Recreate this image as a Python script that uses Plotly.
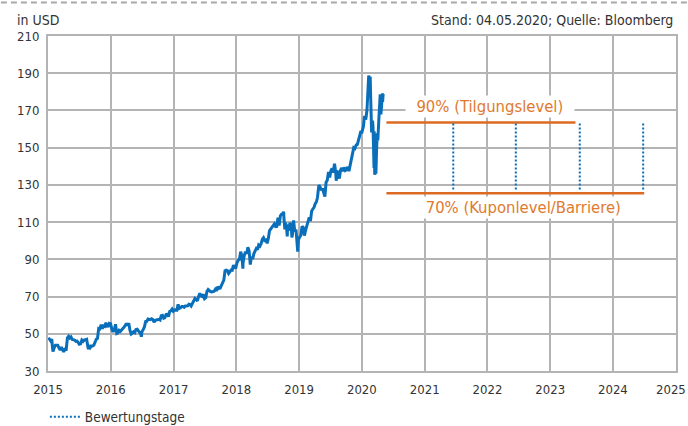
import plotly.graph_objects as go

# ---------------- data ----------------
dates_2015 = ["2015-01-02","2015-01-09","2015-01-16","2015-01-23","2015-01-27","2015-01-30","2015-02-06","2015-02-13",
              "2015-02-20","2015-02-27","2015-03-06","2015-03-13","2015-03-20","2015-03-27","2015-04-02","2015-04-10",
              "2015-04-17","2015-04-24","2015-05-01","2015-05-08","2015-05-15","2015-05-22","2015-05-29","2015-06-05",
              "2015-06-12","2015-06-19","2015-06-26","2015-07-02","2015-07-10","2015-07-17","2015-07-24","2015-07-31",
              "2015-08-07","2015-08-14","2015-08-21","2015-08-24","2015-08-28","2015-09-04","2015-09-11","2015-09-18",
              "2015-09-25","2015-10-02","2015-10-09","2015-10-16","2015-10-23","2015-10-30","2015-11-06","2015-11-13",
              "2015-11-20","2015-11-27","2015-12-04","2015-12-11","2015-12-18","2015-12-24","2015-12-31"]
close_2015 = [46.76,47.19,46.24,47.18,42.66,40.40,42.41,43.87,
              43.86,43.85,42.36,41.38,42.88,40.97,40.29,41.72,
              41.62,47.87,48.66,47.75,48.30,46.90,46.86,46.63,
              45.97,46.10,45.26,44.40,44.61,46.62,45.94,46.70,
              46.74,47.00,43.07,41.68,43.93,42.61,43.48,43.48,
              43.94,46.23,47.11,47.51,52.87,52.64,54.92,52.84,
              54.19,53.93,55.91,54.06,54.13,55.67,55.48]

dates_2016 = ["2016-01-08","2016-01-15","2016-01-22","2016-01-29","2016-02-05","2016-02-12","2016-02-19","2016-02-26",
              "2016-03-04","2016-03-11","2016-03-18","2016-03-24","2016-04-01","2016-04-08","2016-04-15","2016-04-22",
              "2016-04-29","2016-05-06","2016-05-13","2016-05-20","2016-05-27","2016-06-03","2016-06-10","2016-06-17",
              "2016-06-24","2016-06-27","2016-07-01","2016-07-08","2016-07-15","2016-07-22","2016-07-29","2016-08-05",
              "2016-08-12","2016-08-19","2016-08-26","2016-09-02","2016-09-09","2016-09-16","2016-09-23","2016-09-30",
              "2016-10-07","2016-10-14","2016-10-21","2016-10-28","2016-11-04","2016-11-11","2016-11-18","2016-11-25",
              "2016-12-02","2016-12-09","2016-12-16","2016-12-23","2016-12-30"]
close_2016 = [52.33,50.99,52.29,55.09,50.16,50.50,51.82,51.30,
              52.03,53.07,53.49,54.21,55.57,54.42,55.65,51.78,
              49.87,50.39,51.08,50.62,52.32,52.48,51.48,50.13,
              49.83,48.43,51.16,52.30,53.70,56.57,56.68,57.96,
              57.94,57.62,58.03,57.67,56.21,57.25,57.43,57.60,
              57.80,57.42,59.66,59.87,58.35,58.67,60.35,60.53,
              59.25,61.97,62.30,63.24,62.14]

dates_2017 = ["2017-01-06","2017-01-13","2017-01-20","2017-01-27","2017-02-03","2017-02-10","2017-02-17","2017-02-24",
              "2017-03-03","2017-03-10","2017-03-17","2017-03-24","2017-03-31","2017-04-07","2017-04-13","2017-04-21",
              "2017-04-28","2017-05-05","2017-05-12","2017-05-19","2017-05-26","2017-06-02","2017-06-09","2017-06-16",
              "2017-06-23","2017-06-30","2017-07-07","2017-07-14","2017-07-21","2017-07-28","2017-08-04","2017-08-11",
              "2017-08-18","2017-08-25","2017-09-01","2017-09-08","2017-09-15","2017-09-22","2017-09-29","2017-10-06",
              "2017-10-13","2017-10-20","2017-10-27","2017-11-03","2017-11-10","2017-11-17","2017-11-24","2017-12-01",
              "2017-12-08","2017-12-15","2017-12-22","2017-12-29"]
close_2017 = [62.84,62.70,62.74,65.78,63.68,64.00,64.62,64.62,
              64.25,64.93,64.87,64.98,65.86,65.68,64.95,66.40,
              68.46,69.00,68.38,67.69,69.96,71.76,70.32,70.00,
              71.21,68.93,69.46,72.78,73.79,73.04,72.68,72.50,
              72.49,72.82,73.94,73.05,75.31,74.41,74.49,76.29,
              77.49,78.81,83.81,84.14,83.87,82.40,83.26,84.26,
              84.16,86.85,85.51,85.54]

dates_2018 = ["2018-01-05","2018-01-12","2018-01-19","2018-01-26","2018-02-02","2018-02-08","2018-02-09","2018-02-16",
              "2018-02-23","2018-03-02","2018-03-09","2018-03-16","2018-03-23","2018-03-29","2018-04-06","2018-04-13",
              "2018-04-20","2018-04-27","2018-05-04","2018-05-11","2018-05-18","2018-05-25","2018-06-01","2018-06-08",
              "2018-06-15","2018-06-22","2018-06-29","2018-07-06","2018-07-13","2018-07-20","2018-07-27","2018-08-03",
              "2018-08-10","2018-08-17","2018-08-24","2018-08-31","2018-09-07","2018-09-14","2018-09-21","2018-09-28",
              "2018-10-03","2018-10-05","2018-10-10","2018-10-12","2018-10-19","2018-10-24","2018-10-26","2018-11-02",
              "2018-11-09","2018-11-16","2018-11-20","2018-11-23","2018-11-30","2018-12-07","2018-12-14","2018-12-21",
              "2018-12-24","2018-12-28","2018-12-31"]
close_2018 = [88.19,89.60,90.00,94.06,91.78,85.01,88.18,92.00,
              94.06,93.05,96.54,94.60,87.18,91.27,90.23,93.08,
              95.00,95.82,95.16,97.70,97.15,98.36,100.79,101.63,
              100.13,100.41,98.61,101.16,105.43,106.27,107.68,108.04,
              109.00,107.58,107.68,112.33,108.21,113.37,114.26,114.37,
              115.61,112.13,106.16,109.57,108.50,102.32,106.96,106.49,
              109.57,108.29,101.71,103.07,110.89,104.82,106.03,98.23,
              94.13,100.39,101.57]

dates_2019 = ["2019-01-04","2019-01-11","2019-01-18","2019-01-25","2019-02-01","2019-02-08","2019-02-15","2019-02-22",
              "2019-03-01","2019-03-08","2019-03-15","2019-03-22","2019-03-29","2019-04-05","2019-04-12","2019-04-18",
              "2019-04-26","2019-05-03","2019-05-10","2019-05-17","2019-05-24","2019-05-31","2019-06-07","2019-06-14",
              "2019-06-21","2019-06-28","2019-07-05","2019-07-12","2019-07-19","2019-07-26","2019-08-02","2019-08-05",
              "2019-08-09","2019-08-16","2019-08-23","2019-08-30","2019-09-06","2019-09-13","2019-09-20","2019-09-27",
              "2019-10-04","2019-10-11","2019-10-18","2019-10-25","2019-11-01","2019-11-08","2019-11-15","2019-11-22",
              "2019-11-29","2019-12-06","2019-12-13","2019-12-20","2019-12-27","2019-12-31"]
close_2019 = [101.93,102.80,107.71,107.17,102.78,105.67,108.22,110.97,
              112.53,110.51,115.91,117.05,117.94,119.89,120.95,123.37,
              129.89,128.90,127.13,128.07,126.24,123.68,131.40,132.45,
              136.97,133.96,137.62,138.90,136.62,141.34,136.90,132.21,
              137.71,136.13,133.39,137.86,139.10,137.32,139.44,137.73,
              138.12,139.68,137.41,140.73,143.72,145.96,149.97,149.59,
              151.38,151.75,154.53,157.41,158.96,157.70]

dates_2020 = ["2020-01-03","2020-01-10","2020-01-17","2020-01-24","2020-01-31","2020-02-07","2020-02-10","2020-02-14",
              "2020-02-19","2020-02-21","2020-02-24","2020-02-27","2020-02-28","2020-03-03","2020-03-06","2020-03-09",
              "2020-03-12","2020-03-13","2020-03-16","2020-03-18","2020-03-20","2020-03-23","2020-03-24","2020-03-27",
              "2020-03-31","2020-04-03","2020-04-09","2020-04-14","2020-04-17","2020-04-21","2020-04-24","2020-04-29",
              "2020-04-30","2020-05-01","2020-05-04"]
close_2020 = [158.62,161.34,167.10,165.04,170.23,183.89,188.70,187.20,
              187.28,178.59,170.89,158.18,162.01,164.51,161.57,150.62,
              139.06,158.83,135.42,140.40,137.35,135.98,148.34,149.70,
              157.71,153.83,165.14,173.70,178.60,167.82,174.55,177.43,
              179.21,174.57,178.84]

price_dates = dates_2015 + dates_2016 + dates_2017 + dates_2018 + dates_2019 + dates_2020
price_close = close_2015 + close_2016 + close_2017 + close_2018 + close_2019 + close_2020

year_labels = ["2015", "2016", "2017", "2018", "2019", "2020", "2021", "2022", "2023", "2024", "2025"]
year_ticks = [y + "-01-01" for y in year_labels]

tilgung_dates = ["2020-05-23", "2023-05-28"]
tilgung_level = 163.5
kupon_dates = ["2020-05-23", "2024-07-01"]
kupon_level = 125.5
bewertung_dates = ["2021-06-16", "2022-06-15", "2023-06-22", "2024-06-25"]
bewertung_top = 163.0
bewertung_bottom = 127.5

tilgung_label = "90% (Tilgungslevel)"
kupon_label = "70% (Kuponlevel/Barriere)"
legend_label = "Bewertungstage"
unit_label = "in USD"
source_label = "Stand: 04.05.2020; Quelle: Bloomberg"

# ---------------- styles ----------------
FONT = "Liberation Sans Narrow, Arial Narrow, DejaVu Sans Condensed, sans-serif"
BLUE = "#0a6fba"
ORANGE = "#dc6a22"
ORANGE_TXT = "#e07a2e"
GRID = "#b4b4b6"
TXT = "#333333"

fig = go.Figure()

fig.add_trace(go.Scatter(x=price_dates, y=price_close, mode="lines",
                         line=dict(color=BLUE, width=3), showlegend=False, hoverinfo="skip"))

fig.add_trace(go.Scatter(x=tilgung_dates, y=[tilgung_level] * len(tilgung_dates), mode="lines",
                         line=dict(color=ORANGE, width=2.5), showlegend=False))
fig.add_trace(go.Scatter(x=kupon_dates, y=[kupon_level] * len(kupon_dates), mode="lines",
                         line=dict(color=ORANGE, width=2.5), showlegend=False))

bx, by = [], []
for d in bewertung_dates:
    bx += [d, d, None]
    by += [bewertung_top, bewertung_bottom, None]
fig.add_trace(go.Scatter(x=bx, y=by, mode="lines", name=legend_label,
                         line=dict(color=BLUE, width=2, dash="2px,2px"), showlegend=True))

# the last year label is placed separately so it stays inside the picture
tick_text = year_labels[:-1] + [""]

fig.update_layout(
    width=688, height=426,
    margin=dict(l=48, r=12, t=36, b=55, autoexpand=False),
    paper_bgcolor="white", plot_bgcolor="white",
    font=dict(family=FONT, size=14, color=TXT),
    xaxis=dict(type="date", range=["2015-01-01", "2025-01-02"], tickmode="array",
               tickvals=year_ticks, ticktext=tick_text,
               showgrid=True, gridcolor=GRID, gridwidth=1.5,
               showline=True, mirror=True, linecolor=GRID, linewidth=2, ticks="",
               ticklabelstandoff=5, zeroline=False, fixedrange=True, automargin=False,
               tickfont=dict(size=13)),
    yaxis=dict(range=[30, 210], dtick=20, tick0=30, showgrid=True, gridcolor=GRID, gridwidth=1.5,
               showline=True, mirror=True, linecolor=GRID, linewidth=2, ticks="",
               ticklabelstandoff=4, zeroline=False, fixedrange=True, automargin=False,
               tickfont=dict(size=13)),
    legend=dict(orientation="h", x=-0.005, y=-0.137, xanchor="left", yanchor="middle",
                font=dict(size=13.5, color=TXT), bgcolor="rgba(0,0,0,0)"),
    showlegend=True,
)

fig.add_annotation(x=1.0195, y=-0.0546, xref="paper", yref="paper", xanchor="right", yanchor="middle",
                   text=year_labels[-1], showarrow=False, font=dict(size=13, color=TXT))

fig.add_annotation(x="2022-01-15", y=172.2, xref="x", yref="y",
                   text="\u00a0\u00a0" + tilgung_label + "\u00a0\u00a0", showarrow=False,
                   font=dict(size=16.5, color=ORANGE_TXT, family=FONT), bgcolor="white", borderpad=1)
fig.add_annotation(x="2022-07-30", y=118.0, xref="x", yref="y",
                   text="\u00a0" + kupon_label + "\u00a0", showarrow=False,
                   font=dict(size=16.5, color=ORANGE_TXT, family=FONT), bgcolor="white", borderpad=1)

fig.add_annotation(x=-0.053, y=1.047, xref="paper", yref="paper", xanchor="left", yanchor="middle",
                   text=unit_label, showarrow=False, font=dict(size=14, color=TXT))
fig.add_annotation(x=0.999, y=1.047, xref="paper", yref="paper", xanchor="right", yanchor="middle",
                   text=source_label, showarrow=False, font=dict(size=14, color=TXT))

fig.add_shape(type="line", xref="paper", yref="paper", x0=-0.075, x1=1.02, y0=1.1, y1=1.1,
              line=dict(color="#a8a8a8", width=2, dash="6px,4px"))

fig.write_html("out.html", config={"displayModeBar": False},
               post_script="document.body.style.margin='0';")
